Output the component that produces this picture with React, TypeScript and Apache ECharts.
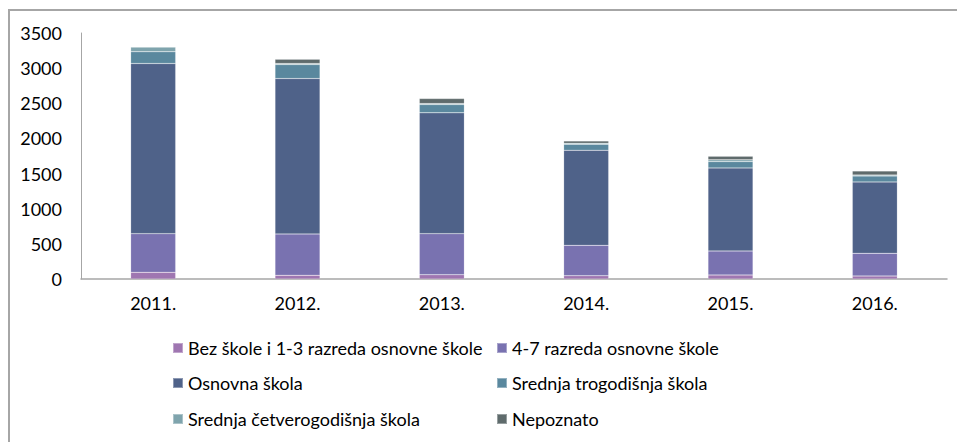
import React, { useEffect, useRef } from "react";
import * as echarts from "echarts";

const categories = ["2011.", "2012.", "2013.", "2014.", "2015.", "2016."];
const bezSkole = [95, 53, 61, 47, 57, 43];
const razreda47 = [550, 588, 584, 432, 342, 323];
const osnovna = [2421, 2211, 1719, 1353, 1182, 1015];
const trogodisnja = [167, 199, 118, 85, 90, 85];
const cetverogodisnja = [67, 15, 14, 14, 24, 14];
const nepoznato = [0, 60, 71, 34, 53, 57];
const yTicks = [0, 500, 1000, 1500, 2000, 2500, 3000, 3500];

const seriesNames = [
  "Bez škole i 1-3 razreda osnovne škole",
  "4-7 razreda osnovne škole",
  "Osnovna škola",
  "Srednja trogodišnja škola",
  "Srednja četverogodišnja škola",
  "Nepoznato",
];
const seriesData = [bezSkole, razreda47, osnovna, trogodisnja, cetverogodisnja, nepoznato];
const colors = ["#9F76B1", "#7972B0", "#4F6289", "#5A889E", "#7FA4AD", "#5F6B6C"];

const FONT = "Lato";

export default function App() {
  const ref = useRef<HTMLDivElement>(null);
  useEffect(() => {
    if (!ref.current) return;
    const chart = echarts.init(ref.current, null, { renderer: "svg" });
    const legendPos = [
      [172, 339],
      [496, 339],
      [172, 374],
      [496, 374],
      [172, 410],
      [496, 410],
    ];
    chart.setOption({
      animation: false,
      color: colors,
      grid: { left: 81, right: 10, top: 33, bottom: 163 },
      xAxis: {
        type: "category",
        data: categories,
        axisLine: { lineStyle: { color: "#A6A6A6", width: 1.5 } },
        axisTick: { show: false },
        axisLabel: { color: "#000", fontFamily: FONT, fontSize: 18, margin: 15 },
      },
      yAxis: {
        type: "value",
        min: 0,
        max: 3500,
        interval: 500,
        axisLine: { show: true, lineStyle: { color: "#A6A6A6", width: 1 } },
        axisTick: { show: false },
        splitLine: { show: false },
        axisLabel: {
          color: "#000",
          fontFamily: FONT,
          fontSize: 18,
          margin: 19,
          formatter: (v: number) => (yTicks.includes(v) ? String(v) : ""),
        },
      },
      legend: seriesNames.map((name, i) => ({
        data: [name],
        left: legendPos[i][0],
        top: legendPos[i][1],
        itemWidth: 10,
        itemHeight: 10,
        itemGap: 0,
        padding: 0,
        icon: "rect",
        selectedMode: false,
        textStyle: { color: "#000", fontFamily: FONT, fontSize: 18, padding: [0, 0, 0, 0] },
      })),
      graphic: [
        {
          type: "polyline",
          shape: { points: [[9, 442], [9, 10], [957, 10]] },
          style: { stroke: "#A6A6A6", lineWidth: 2, fill: "none" },
        },
      ],
      series: seriesNames.map((name, i) => ({
        name,
        type: "bar",
        stack: "total",
        barWidth: 45,
        data: seriesData[i],
        itemStyle: { color: colors[i], borderColor: "rgba(255,255,255,0.35)", borderWidth: 0.5 },
      })),
    });
    return () => chart.dispose();
  }, []);
  return <div ref={ref} style={{ width: 957, height: 442, position: "absolute", left: 0, top: 0 }} />;
}
